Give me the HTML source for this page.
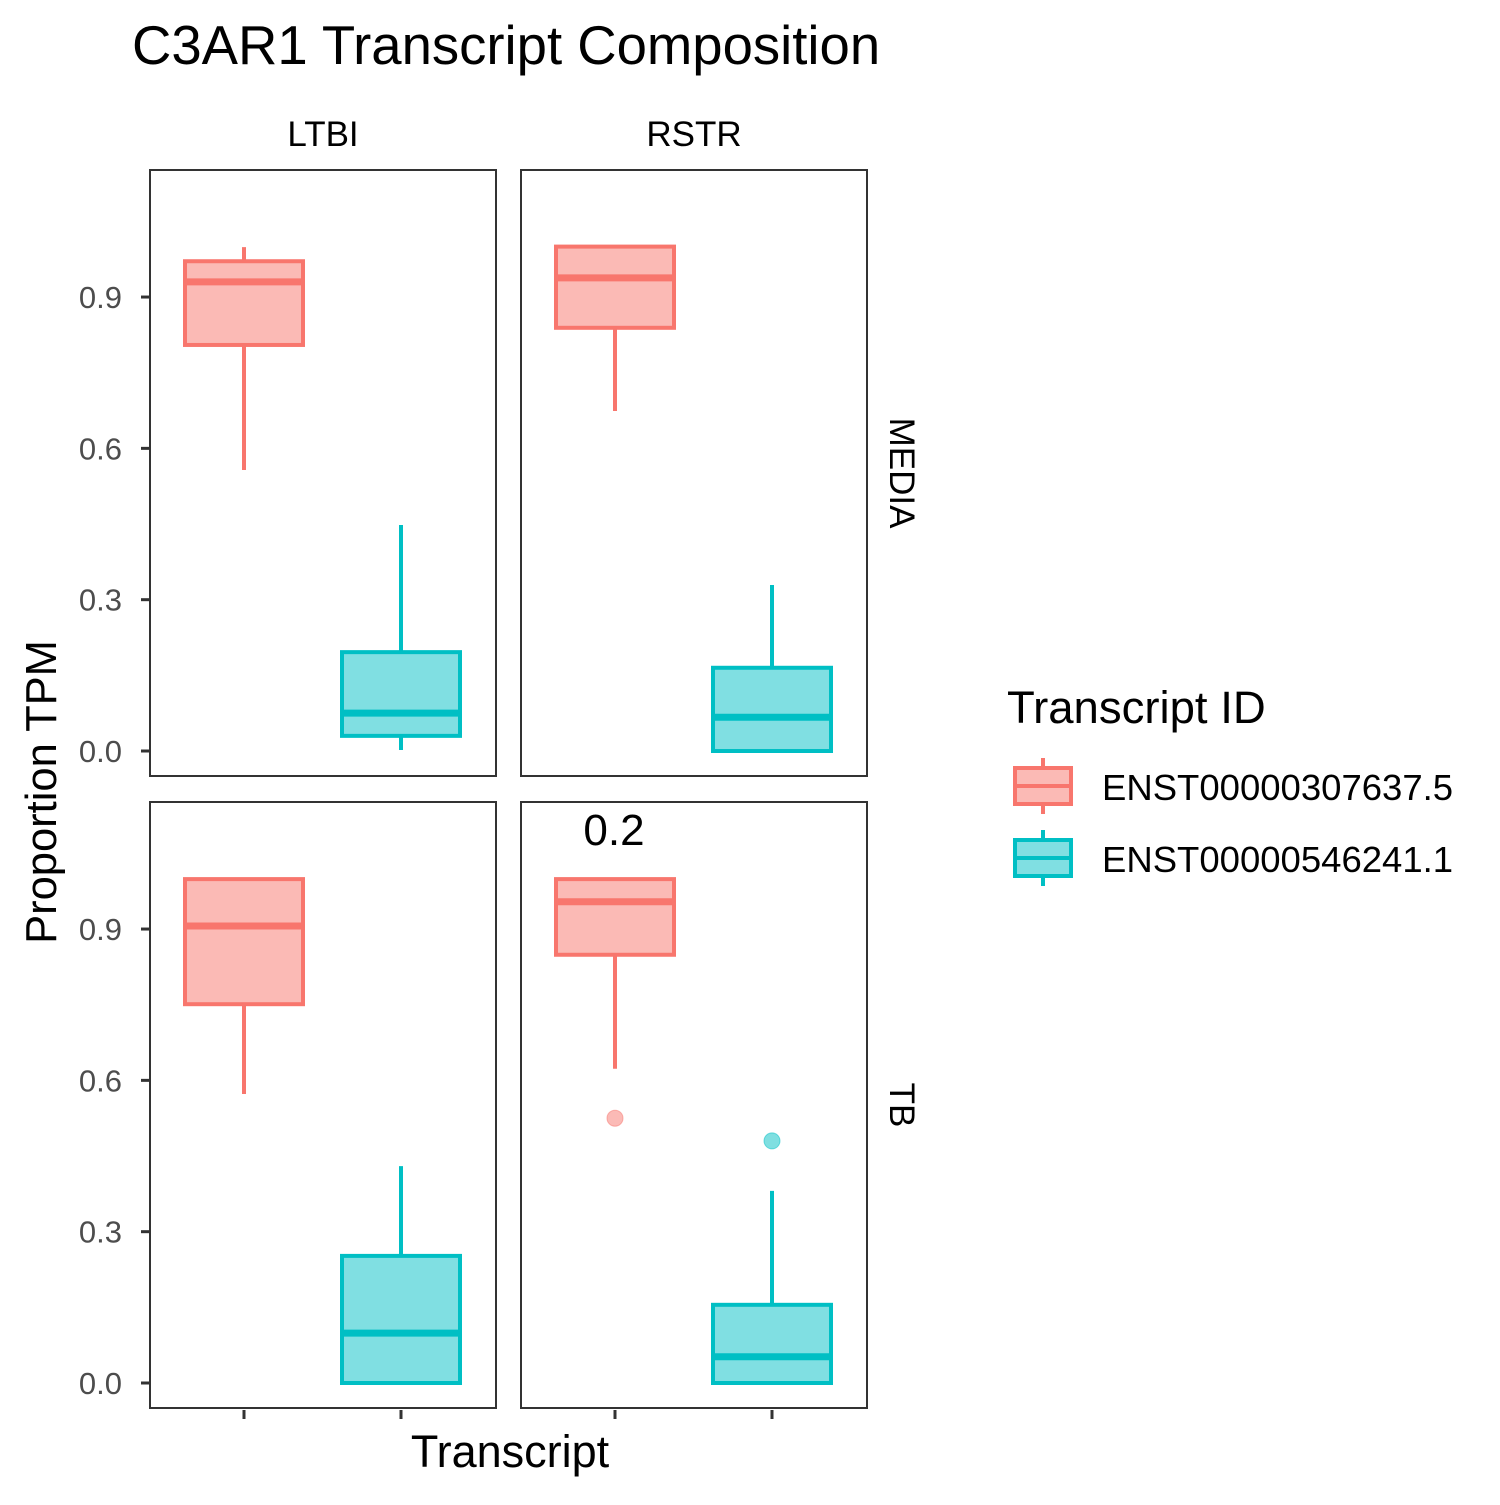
<!DOCTYPE html>
<html><head><meta charset="utf-8"><style>
body{margin:0;background:#fff}
svg{font-family:"Liberation Sans",Arial,sans-serif}
</style></head><body>
<svg id="chart" width="1500" height="1500" viewBox="0 0 1500 1500" xmlns="http://www.w3.org/2000/svg">
<rect width="1500" height="1500" fill="#fff"/>
<text x="132" y="64" font-size="54.5" fill="#000">C3AR1 Transcript Composition</text>
<g id="plot"></g>
<text x="510" y="1467" font-size="45" text-anchor="middle">Transcript</text>
<text transform="translate(56,792) rotate(-90)" font-size="43.5" text-anchor="middle">Proportion TPM</text>
<text x="614" y="845" font-size="44" text-anchor="middle">0.2</text>
<g>
<text x="1007" y="723" font-size="45.5">Transcript ID</text>
<g>
<line x1="1043" y1="758" x2="1043" y2="814" stroke="#F8766D" stroke-width="4"/>
<rect x="1015" y="768" width="56" height="36" fill="#FBBAB5" stroke="#F8766D" stroke-width="4"/>
<line x1="1015" y1="786" x2="1071" y2="786" stroke="#F8766D" stroke-width="4"/>
<text x="1102" y="800" font-size="36.5">ENST00000307637.5</text></g>
<g>
<line x1="1043" y1="830" x2="1043" y2="886" stroke="#00BFC4" stroke-width="4"/>
<rect x="1015" y="840" width="56" height="36" fill="#80DFE2" stroke="#00BFC4" stroke-width="4"/>
<line x1="1015" y1="858" x2="1071" y2="858" stroke="#00BFC4" stroke-width="4"/>
<text x="1102" y="872" font-size="36.5">ENST00000546241.1</text></g>
</g>
</svg>
<script>
const colNames=["LTBI","RSTR"];
const rowNames=["MEDIA","TB"];
const yTicks=[0,0.3,0.6,0.9];
const yTickLabels=["0.0","0.3","0.6","0.9"];
// [low, q1, median, q3, high] per panel (row-major), per transcript
const redStats=[[0.557,0.805,0.930,0.971,0.999],[0.674,0.839,0.938,1.0,1.0],[0.573,0.751,0.906,0.999,1.0],[0.623,0.849,0.954,0.999,1.0]];
const tealStats=[[0.002,0.03,0.075,0.196,0.448],[0.0,0.0,0.067,0.165,0.329],[0.0,0.0,0.099,0.252,0.43],[0.0,0.0,0.052,0.155,0.381]];
const redOutliers=[[],[],[],[0.525]];
const tealOutliers=[[],[],[],[0.48]];
const NS="http://www.w3.org/2000/svg";
const g=document.getElementById('plot');
function mk(t,a,p){const e=document.createElementNS(NS,t);for(const k in a)e.setAttribute(k,a[k]);(p||g).appendChild(e);return e;}
const colX=[150,521], rowY=[170,802], PW=346, PH=606;
function yS(r,v){return rowY[r]+581-v*504.4;}
function xS(c,i){return colX[c]+94+i*157;}
const cols=[{s:"#F8766D",f:"#FBBAB5"},{s:"#00BFC4",f:"#80DFE2"}];
for(let r=0;r<2;r++){
 for(let c=0;c<2;c++){
  const p=r*2+c;
  const panel=mk('g',{});
  
  
  [redStats[p],tealStats[p]].forEach((s,i)=>{
   const x=xS(c,i),cl=cols[i];
   const b=mk('g',{},panel);
   
   
   mk('line',{x1:x,x2:x,y1:yS(r,s[0]),y2:yS(r,s[4]),stroke:cl.s,'stroke-width':4},b);
   mk('rect',{x:x-59,width:118,y:yS(r,s[3]),height:yS(r,s[1])-yS(r,s[3]),fill:cl.f,stroke:cl.s,'stroke-width':4},b);
   mk('line',{x1:x-59,x2:x+59,y1:yS(r,s[2]),y2:yS(r,s[2]),stroke:cl.s,'stroke-width':7},b);
   (i?tealOutliers:redOutliers)[p].forEach(v=>{
    const o=mk('circle',{cx:x,cy:yS(r,v),r:8,fill:cl.s,'fill-opacity':0.5,stroke:cl.s,'stroke-opacity':0.5},b);
    
    
   });
  });
  const fr=mk('rect',{x:colX[c],y:rowY[r],width:PW,height:PH,fill:'none',stroke:'#333','stroke-width':2},panel);
  
  
 }
 yTicks.forEach((v,k)=>{
  const y=yS(r,v);
  mk('line',{x1:141,x2:150,y1:y,y2:y,stroke:'#333','stroke-width':3});
  const t=mk('text',{x:122,y:y+11,'font-size':31,fill:'#4d4d4d','text-anchor':'end'});
  t.textContent=yTickLabels[k];
  
  
 });
 const st=mk('text',{transform:`translate(890,${rowY[r]+PH/2}) rotate(90)`,'font-size':35,'text-anchor':'middle'});
 st.textContent=rowNames[r];
 
 
}
for(let c=0;c<2;c++){
 const t=mk('text',{x:colX[c]+PW/2,y:146,'font-size':35,'text-anchor':'middle'});
 t.textContent=colNames[c];
 
 
 for(let i=0;i<2;i++){const x=xS(c,i);mk('line',{x1:x,x2:x,y1:1410,y2:1419,stroke:'#333','stroke-width':3});}
}
</script>
</body></html>
